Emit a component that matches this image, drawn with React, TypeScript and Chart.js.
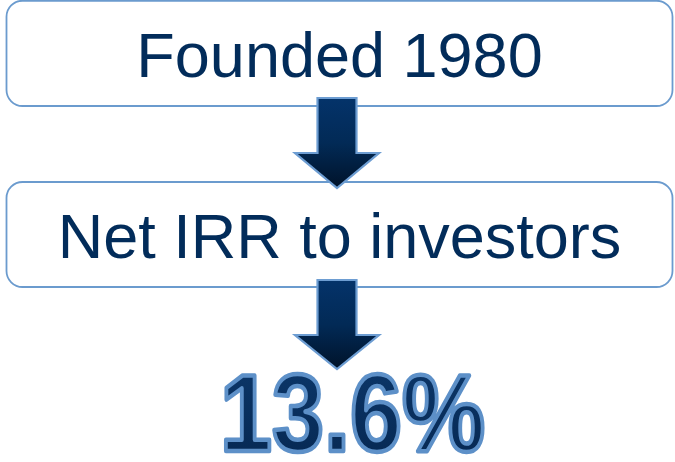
import React, { useEffect, useRef } from "react";
import { Chart, registerables } from "chart.js";

Chart.register(...registerables);

// Diagram content
const stepLabels: string[] = ["Founded 1980", "Net IRR to investors"];
const resultValues: number[] = [13.6];
const resultSuffix = "%";

const W = 675;
const H = 462;

function roundRect(ctx: CanvasRenderingContext2D, x: number, y: number, w: number, h: number, r: number) {
  ctx.beginPath();
  ctx.moveTo(x + r, y);
  ctx.lineTo(x + w - r, y);
  ctx.arcTo(x + w, y, x + w, y + r, r);
  ctx.lineTo(x + w, y + h - r);
  ctx.arcTo(x + w, y + h, x + w - r, y + h, r);
  ctx.lineTo(x + r, y + h);
  ctx.arcTo(x, y + h, x, y + h - r, r);
  ctx.lineTo(x, y + r);
  ctx.arcTo(x, y, x + r, y, r);
  ctx.closePath();
}

const flowPlugin = {
  id: "flow",
  afterDraw(chart: any) {
    const ctx: CanvasRenderingContext2D = chart.ctx;
    const sx = chart.scales.x;
    const sy = chart.scales.y;
    const px = (v: number) => sx.getPixelForValue(v);
    const py = (v: number) => sy.getPixelForValue(v);

    const boxes = [
      { top: 0.75, bottom: 106, baseline: 77 },
      { top: 182, bottom: 287, baseline: 258 },
    ];

    ctx.save();
    // boxes
    boxes.forEach((b, i) => {
      const x0 = px(6.5), x1 = px(672.5);
      const y0 = py(b.top), y1 = py(b.bottom);
      roundRect(ctx, x0, y0, x1 - x0, y1 - y0, 16);
      ctx.fillStyle = "#ffffff";
      ctx.fill();
      ctx.lineWidth = 1.8;
      ctx.strokeStyle = "#6b9bce";
      ctx.stroke();
      ctx.fillStyle = "#022c5a";
      ctx.font = "63px 'Liberation Sans', Arial, sans-serif";
      ctx.textAlign = "center";
      ctx.textBaseline = "alphabetic";
      ctx.fillText(stepLabels[i], px(339.5), py(b.baseline));
    });

    // arrows
    const arrows = [
      { top: 98, neck: 153, tip: 188 },
      { top: 280, neck: 335, tip: 369 },
    ];
    arrows.forEach((a) => {
      const cx = px(337);
      const sh = 19.5;
      const wing = 42;
      const yTop = py(a.top), yNeck = py(a.neck), yTip = py(a.tip);
      ctx.beginPath();
      ctx.moveTo(cx - sh, yTop);
      ctx.lineTo(cx + sh, yTop);
      ctx.lineTo(cx + sh, yNeck);
      ctx.lineTo(cx + wing, yNeck);
      ctx.lineTo(cx, yTip);
      ctx.lineTo(cx - wing, yNeck);
      ctx.lineTo(cx - sh, yNeck);
      ctx.closePath();
      const g = ctx.createLinearGradient(0, yTop, 0, yTip);
      g.addColorStop(0, "#04336a");
      g.addColorStop(0.5, "#022a56");
      g.addColorStop(1, "#00132a");
      ctx.fillStyle = g;
      ctx.fill();
      ctx.lineWidth = 2.2;
      ctx.lineJoin = "miter";
      ctx.strokeStyle = "#6d9dd2";
      ctx.stroke();
    });

    // result value
    const txt = resultValues[0].toFixed(1) + resultSuffix;
    ctx.save();
    ctx.translate(px(352.5), py(451));
    ctx.scale(0.85, 1);
    ctx.font = "bold 110px 'Liberation Sans', Arial, sans-serif";
    ctx.textAlign = "center";
    ctx.textBaseline = "alphabetic";
    const tg = ctx.createLinearGradient(0, -80, 0, 0);
    tg.addColorStop(0, "#0b3567");
    tg.addColorStop(1, "#072a55");
    ctx.fillStyle = tg;
    ctx.fillText(txt, 0, 0);
    ctx.lineWidth = 4.5;
    ctx.lineJoin = "round";
    ctx.strokeStyle = "#5d90c8";
    ctx.strokeText(txt, 0, 0);
    ctx.restore();

    ctx.restore();
  },
};

export default function App() {
  const ref = useRef<HTMLCanvasElement | null>(null);
  useEffect(() => {
    document.body.style.margin = "0";
    const canvas = ref.current;
    if (!canvas) return;
    const chart = new Chart(canvas, {
      type: "scatter",
      data: { datasets: [] },
      options: {
        animation: false,
        responsive: false,
        devicePixelRatio: 1,
        layout: { padding: 0 },
        plugins: { legend: { display: false }, tooltip: { enabled: false } },
        scales: {
          x: { type: "linear", min: 0, max: W, display: false },
          y: { type: "linear", min: 0, max: H, reverse: true, display: false },
        },
      },
      plugins: [flowPlugin],
    });
    return () => chart.destroy();
  }, []);
  return (
    <div style={{ position: "absolute", left: 0, top: 0, width: W, height: H, background: "#fff" }}>
      <canvas ref={ref} width={W} height={H} style={{ width: W, height: H }} />
    </div>
  );
}
